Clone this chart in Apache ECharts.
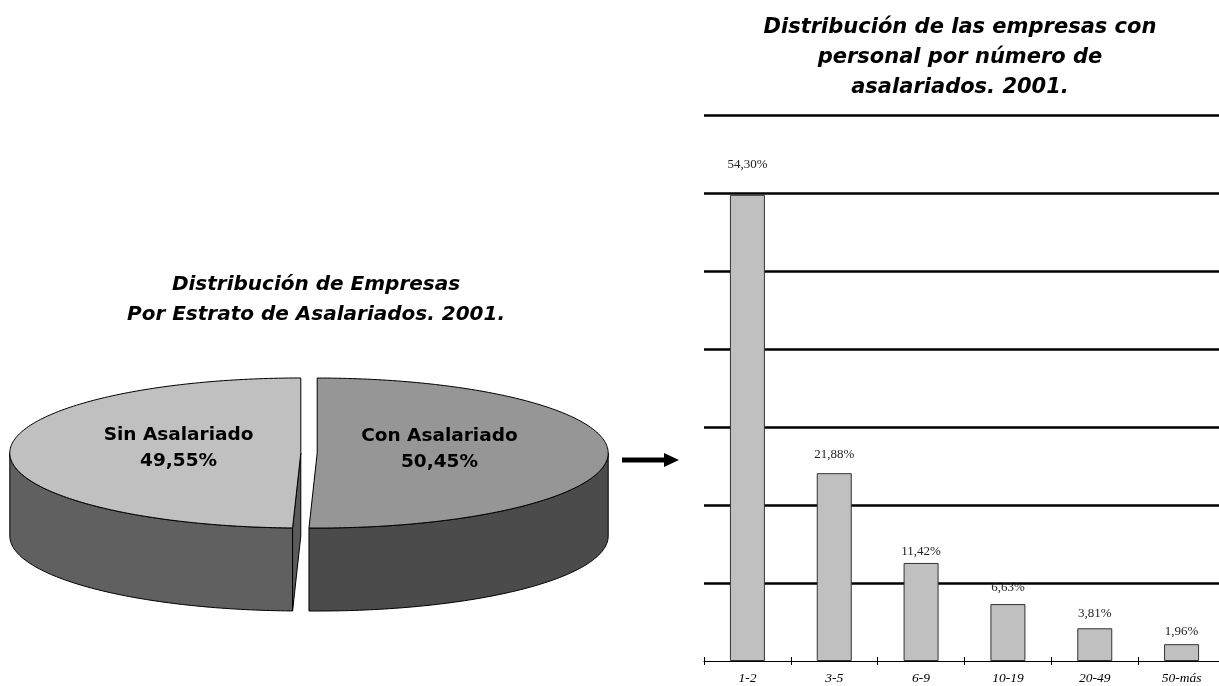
<!DOCTYPE html>
<html><head><meta charset="utf-8">
<script src="https://cdn.jsdelivr.net/npm/echarts@6/dist/echarts.min.js"></script>
<style>html,body{margin:0;padding:0;background:#fff}#c{width:1219px;height:686px}</style>
</head><body><div id="c"></div>
<script>
// ---- data ----
const pieTitle = 'Distribución de Empresas\nPor Estrato de Asalariados. 2001.';
const barTitle = 'Distribución de las empresas con\npersonal por número de\nasalariados. 2001.';
const pieNames = ['Con Asalariado', 'Sin Asalariado'];
const pieValues = [50.45, 49.55];
const barCategories = ['1-2', '3-5', '6-9', '10-19', '20-49', '50-más'];
const barValues = [54.30, 21.88, 11.42, 6.63, 3.81, 1.96];

// ---- layout / style ----
const PIE = {cx: 309, cy: 453, rx: 291, ry: 75, depth: 83, explode: 8.2};
const labelGap = [24, 12, 5, 10, 8, 6];
const topColors = ['#969696', '#c0c0c0'];
const sideColors = ['#4b4b4b', '#606060'];
const faceColor = '#5a5a5a';
const yMax = 63.6;

const fmt = v => v.toFixed(2).replace('.', ',') + '%';

const total = pieValues.reduce((a, b) => a + b, 0);
const angles = [];
let acc = 0;
pieValues.forEach(v => { const s = acc / total * 360; acc += v; angles.push([s, acc / total * 360]); });

function pt(cx, cy, th, dy) {
  const r = th * Math.PI / 180;
  return [cx + PIE.rx * Math.sin(r), cy - PIE.ry * Math.cos(r) + (dy || 0)];
}

function renderPie(params, api) {
  const i = params.dataIndex;
  const a = angles[i][0], b = angles[i][1];
  const m = (a + b) / 2 * Math.PI / 180;
  const cx = PIE.cx + PIE.explode * Math.sin(m);
  const cy = PIE.cy - PIE.explode * Math.cos(m) * PIE.ry / PIE.rx;
  const children = [];
  const s = Math.max(a, 90), e = Math.min(b, 270);
  if (e > s) {
    const pts = [];
    for (let t = s; t < e; t += 1) pts.push(pt(cx, cy, t));
    pts.push(pt(cx, cy, e));
    for (let t = e; t > s; t -= 1) pts.push(pt(cx, cy, t, PIE.depth));
    pts.push(pt(cx, cy, s, PIE.depth));
    children.push({type: 'polygon', shape: {points: pts}, style: {fill: sideColors[i], stroke: '#000', lineWidth: 1}});
  }
  const faces = [];
  if (Math.sin(a * Math.PI / 180) < -1e-6) faces.push(a);
  if (Math.sin(b * Math.PI / 180) > 1e-6) faces.push(b);
  faces.forEach(t => {
    const p = pt(cx, cy, t);
    children.push({type: 'polygon', shape: {points: [[cx, cy], p, [p[0], p[1] + PIE.depth], [cx, cy + PIE.depth]]},
      style: {fill: faceColor, stroke: '#000', lineWidth: 1}});
  });
  const tp = [[cx, cy]];
  for (let t = a; t < b; t += 1) tp.push(pt(cx, cy, t));
  tp.push(pt(cx, cy, b));
  children.push({type: 'polygon', shape: {points: tp}, style: {fill: topColors[i], stroke: '#000', lineWidth: 1}});
  children.push({type: 'text', style: {
    text: pieNames[i] + '\n' + fmt(pieValues[i]),
    x: cx + 0.42 * PIE.rx * Math.sin(m), y: cy - 0.42 * PIE.ry * Math.cos(m) - 4,
    align: 'center', verticalAlign: 'middle',
    fontFamily: 'DejaVu Sans', fontWeight: 'bold', fontSize: 18.5, lineHeight: 26, fill: '#000'}});
  return {type: 'group', children};
}

const chart = echarts.init(document.getElementById('c'), null, {renderer: 'canvas'});
const titleStyle = {fontFamily: 'DejaVu Sans', fontStyle: 'italic', fontWeight: 'bold', lineHeight: 30, color: '#000'};
chart.setOption({
  backgroundColor: '#fff',
  animation: false,
  title: [
    {text: pieTitle, left: 316, top: 270, textAlign: 'center', padding: 0, textStyle: Object.assign({fontSize: 20}, titleStyle)},
    {text: barTitle, left: 960, top: 13, textAlign: 'center', padding: 0, textStyle: Object.assign({fontSize: 21}, titleStyle)}
  ],
  grid: {left: 704, top: 115, width: 521, height: 546, outerBoundsMode: 'none', containLabel: false},
  xAxis: [
    {type: 'category', data: barCategories, position: 'bottom',
      axisLine: {show: true, lineStyle: {color: '#000', width: 1}},
      axisTick: {show: true, length: 4, lineStyle: {color: '#000', width: 1}},
      axisLabel: {fontFamily: 'Liberation Serif', fontStyle: 'italic', fontSize: 13.5, color: '#000', margin: 10},
      splitLine: {show: false}},
    {type: 'category', data: barCategories, position: 'bottom',
      axisLine: {show: false},
      axisTick: {show: true, inside: true, length: 4, lineStyle: {color: '#000', width: 1}},
      axisLabel: {show: false}, splitLine: {show: false}}
  ],
  yAxis: {type: 'value', min: 0, max: yMax, interval: yMax / 7,
    axisLine: {show: false}, axisTick: {show: false}, axisLabel: {show: false},
    splitLine: {show: true, lineStyle: {width: 2.5, color: ['rgba(0,0,0,0)', '#000', '#000', '#000', '#000', '#000', '#000', '#000']}}},
  graphic: [{type: 'polygon', silent: true,
    shape: {points: [[622, 457.5], [664, 457.5], [664, 453], [679, 460], [664, 467], [664, 462.5], [622, 462.5]]},
    style: {fill: '#000'}}],
  series: [
    {type: 'bar', xAxisIndex: 0, yAxisIndex: 0, barWidth: 35, silent: true,
      data: barValues.map((v, i) => ({value: v, label: {distance: labelGap[i]}})),
      itemStyle: {color: '#c0c0c0', borderColor: '#333', borderWidth: 1},
      label: {show: true, position: 'top', formatter: p => fmt(p.value),
        fontFamily: 'Liberation Serif', fontSize: 13, color: '#222'}},
    {type: 'custom', coordinateSystem: 'none', silent: true, renderItem: renderPie,
      data: pieValues.map((v, i) => ({name: pieNames[i], value: v}))}
  ]
});
</script></body></html>
